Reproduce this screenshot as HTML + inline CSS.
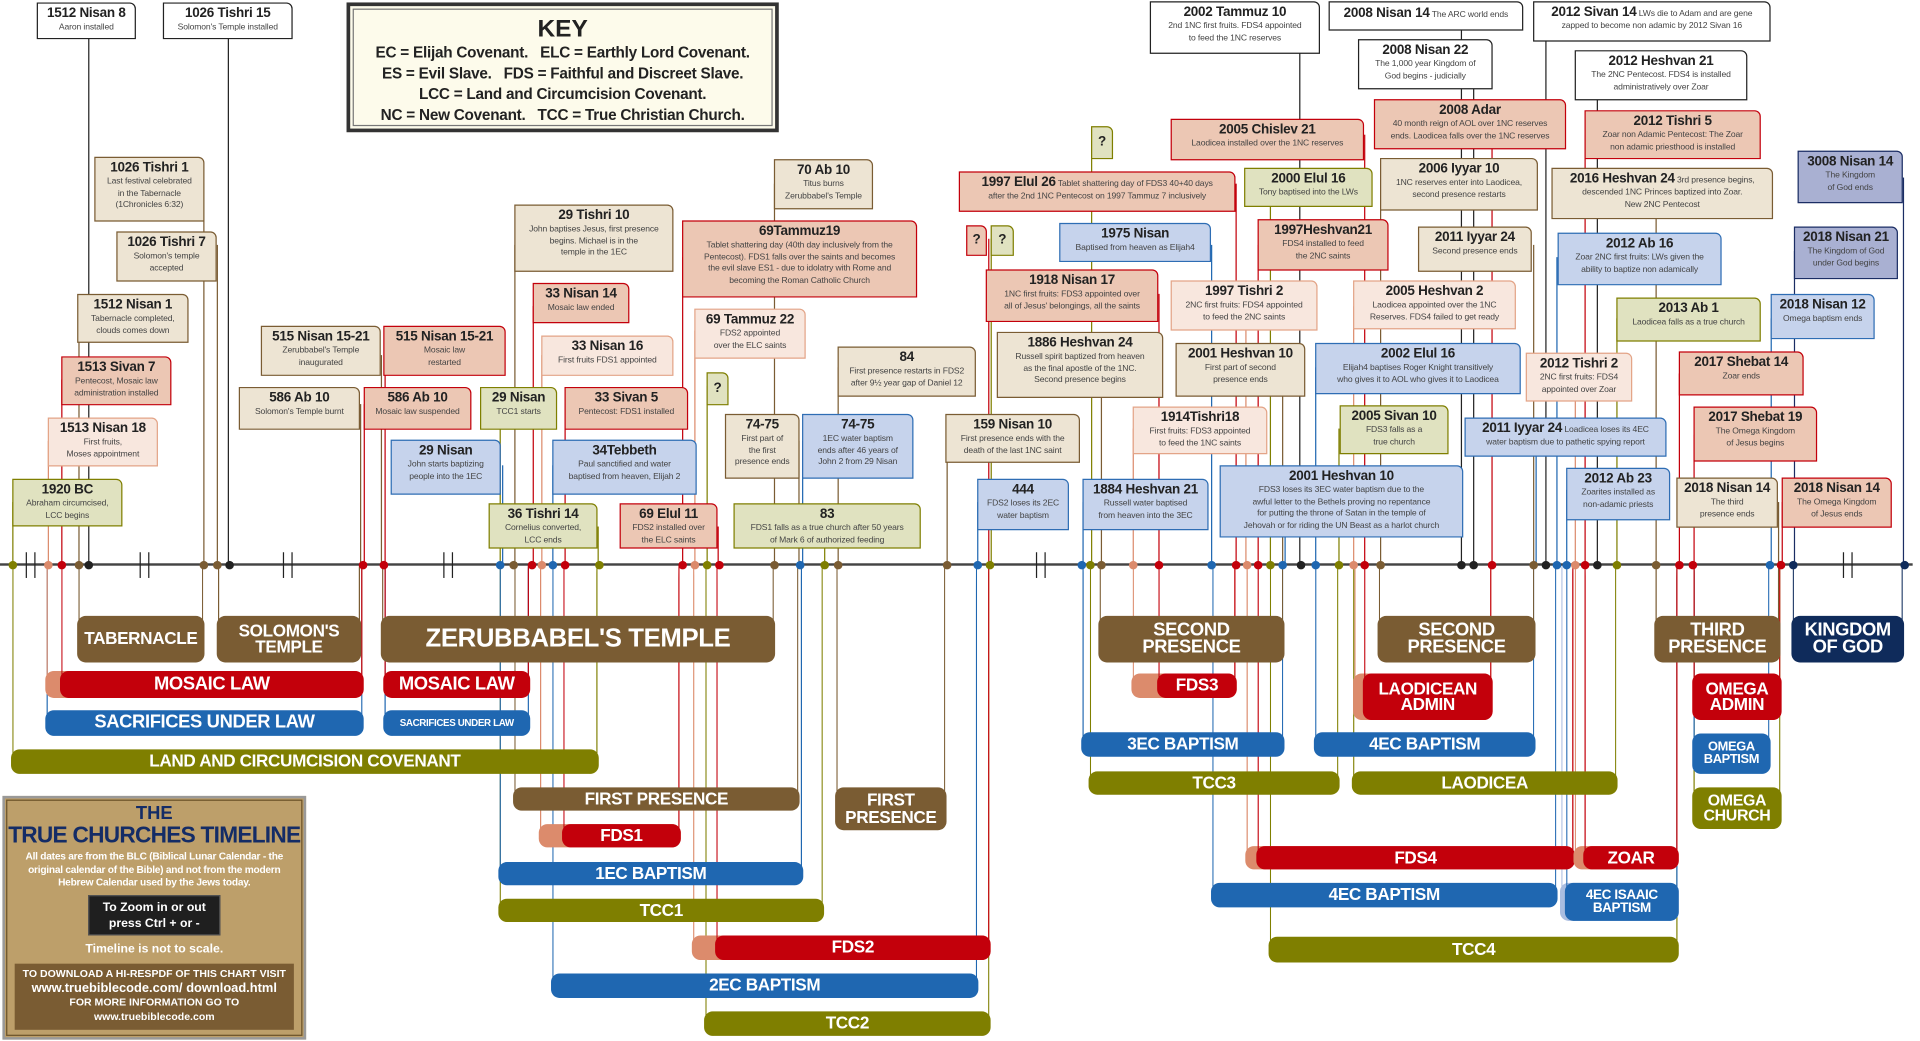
<!DOCTYPE html>
<html><head><meta charset="utf-8">
<style>
html,body{margin:0;padding:0;background:#fff;width:1920px;height:1041px;overflow:hidden}
#c{position:absolute;left:0;top:0;width:1568px;height:850px;transform:scale(1.22449);transform-origin:0 0;font-family:"Liberation Sans",sans-serif}
.br{position:absolute;top:461px;box-sizing:border-box;border-left:1.6px solid var(--c);border-right:1.6px solid var(--c);border-radius:0 0 7px 7px;z-index:1}
.br span{position:absolute;left:-1.6px;right:-1.6px;bottom:0;background:var(--c);border-radius:7px;color:#fff;font-weight:bold;display:flex;align-items:center;justify-content:center;text-align:center;line-height:0.95;white-space:nowrap;letter-spacing:-0.3px}
.v{position:absolute;width:1.4px;z-index:2}
.ax{position:absolute;left:0;top:460.3px;width:1562px;height:1.5px;background:#444;z-index:3}
.d{position:absolute;top:458px;width:7px;height:7px;border-radius:50%;margin-left:-2.8px;z-index:4}
.bk{position:absolute;top:451px;width:1.3px;height:21px;background:#222;z-index:4}
.bx{position:absolute;box-sizing:border-box;border:1.5px solid;border-radius:0 5px 0 0;text-align:center;font-size:7px;line-height:9.5px;color:#444;z-index:5;padding-top:2px;overflow:hidden;white-space:nowrap;letter-spacing:-0.1px}
.bx b{display:block;font-size:11px;line-height:13px;color:#222;letter-spacing:-0.2px}
.bx b.i{display:inline}
.t{background:#ede4d3;border-color:#7a5c33}
.p{background:#ecc7b4;border-color:#c3000b}
.l{background:#f8e7de;border-color:#e3a487}
.u{background:#c6d3ec;border-color:#2e6db4}
.o{background:#e0e2c0;border-color:#7f7f00}
.w{background:#fff;border-color:#222}
.n{background:#a9b0d2;border-color:#1b2d64}
</style></head><body>
<div id="c">

<div class="br" style="--c:#7f7f00;left:576px;width:232px;height:385px"><span style="height:20px;font-size:14px">TCC2</span></div>
<div class="br" style="--c:#1f67b1;left:451px;width:347px;height:354px"><span style="height:20px;font-size:14px">2EC BAPTISM</span></div>
<div class="br" style="--c:#dc8b6c;left:566px;width:242px;height:323px"><span style="height:20px"></span></div>
<div class="br" style="--c:#c3000b;left:585px;width:223px;height:323px"><span style="height:20px;font-size:14px">FDS2</span></div>
<div class="br" style="--c:#7f7f00;left:1037px;width:333px;height:325px"><span style="height:21px;font-size:14px">TCC4</span></div>
<div class="br" style="--c:#7f7f00;left:408px;width:264px;height:292px"><span style="height:19px;font-size:14px">TCC1</span></div>
<div class="br" style="--c:#a9bde0;left:1275px;width:95px;height:291px"><span style="height:31px"></span></div>
<div class="br" style="--c:#1f67b1;left:1279px;width:91px;height:291px"><span style="height:31px;font-size:11px">4EC ISAAIC<br>BAPTISM</span></div>
<div class="br" style="--c:#1f67b1;left:990px;width:281px;height:280px"><span style="height:20px;font-size:14px">4EC BAPTISM</span></div>
<div class="br" style="--c:#1f67b1;left:408px;width:247px;height:262px"><span style="height:19px;font-size:14px">1EC BAPTISM</span></div>
<div class="br" style="--c:#dc8b6c;left:1018px;width:267px;height:249px"><span style="height:19px"></span></div>
<div class="br" style="--c:#c3000b;left:1027px;width:258px;height:249px"><span style="height:19px;font-size:14px">FDS4</span></div>
<div class="br" style="--c:#dc8b6c;left:1286px;width:84px;height:249px"><span style="height:19px"></span></div>
<div class="br" style="--c:#c3000b;left:1294px;width:76px;height:249px"><span style="height:19px;font-size:14px">ZOAR</span></div>
<div class="br" style="--c:#dc8b6c;left:441px;width:114px;height:231px"><span style="height:19px"></span></div>
<div class="br" style="--c:#c3000b;left:460px;width:95px;height:231px"><span style="height:19px;font-size:14px">FDS1</span></div>
<div class="br" style="--c:#7a5c33;left:683px;width:89px;height:217px"><span style="height:35px;font-size:14px">FIRST<br>PRESENCE</span></div>
<div class="br" style="--c:#7f7f00;left:1383px;width:71px;height:216px"><span style="height:34px;font-size:13px">OMEGA<br>CHURCH</span></div>
<div class="br" style="--c:#7a5c33;left:420px;width:232px;height:201px"><span style="height:19px;font-size:14px">FIRST PRESENCE</span></div>
<div class="br" style="--c:#7f7f00;left:890px;width:203px;height:188px"><span style="height:19px;font-size:14px">TCC3</span></div>
<div class="br" style="--c:#7f7f00;left:1105px;width:215px;height:188px"><span style="height:19px;font-size:14px">LAODICEA</span></div>
<div class="br" style="--c:#7f7f00;left:10px;width:478px;height:171px"><span style="height:20px;font-size:14px">LAND AND CIRCUMCISION COVENANT</span></div>
<div class="br" style="--c:#1f67b1;left:1383px;width:62px;height:171px"><span style="height:33px;font-size:10.5px">OMEGA<br>BAPTISM</span></div>
<div class="br" style="--c:#1f67b1;left:884px;width:164px;height:157px"><span style="height:20px;font-size:14px">3EC BAPTISM</span></div>
<div class="br" style="--c:#1f67b1;left:1074px;width:179px;height:157px"><span style="height:20px;font-size:14px">4EC BAPTISM</span></div>
<div class="br" style="--c:#1f67b1;left:38px;width:258px;height:140px"><span style="height:21px;font-size:15px">SACRIFICES UNDER LAW</span></div>
<div class="br" style="--c:#1f67b1;left:314px;width:118px;height:140px"><span style="height:21px;font-size:8px">SACRIFICES UNDER LAW</span></div>
<div class="br" style="--c:#dc8b6c;left:1106px;width:112px;height:127px"><span style="height:38px"></span></div>
<div class="br" style="--c:#c3000b;left:1114px;width:104px;height:127px"><span style="height:38px;font-size:14px">LAODICEAN<br>ADMIN</span></div>
<div class="br" style="--c:#c3000b;left:1383px;width:71px;height:127px"><span style="height:38px;font-size:14px">OMEGA<br>ADMIN</span></div>
<div class="br" style="--c:#dc8b6c;left:925px;width:84px;height:109px"><span style="height:20px"></span></div>
<div class="br" style="--c:#c3000b;left:946px;width:63px;height:109px"><span style="height:20px;font-size:14px">FDS3</span></div>
<div class="br" style="--c:#dc8b6c;left:38px;width:258px;height:109px"><span style="height:22px"></span></div>
<div class="br" style="--c:#c3000b;left:50px;width:246px;height:109px"><span style="height:22px;font-size:15px">MOSAIC LAW</span></div>
<div class="br" style="--c:#c3000b;left:314px;width:118px;height:109px"><span style="height:22px;font-size:15px">MOSAIC LAW</span></div>
<div class="br" style="--c:#7a5c33;left:64px;width:102px;height:80px"><span style="height:38px;font-size:14px">TABERNACLE</span></div>
<div class="br" style="--c:#7a5c33;left:178px;width:116px;height:80px"><span style="height:38px;font-size:14px">SOLOMON'S<br>TEMPLE</span></div>
<div class="br" style="--c:#7a5c33;left:312px;width:320px;height:80px"><span style="height:38px;font-size:21px">ZERUBBABEL'S TEMPLE</span></div>
<div class="br" style="--c:#7a5c33;left:898px;width:150px;height:80px"><span style="height:38px;font-size:15px">SECOND<br>PRESENCE</span></div>
<div class="br" style="--c:#7a5c33;left:1126px;width:127px;height:80px"><span style="height:38px;font-size:15px">SECOND<br>PRESENCE</span></div>
<div class="br" style="--c:#7a5c33;left:1352px;width:101px;height:80px"><span style="height:38px;font-size:15px">THIRD<br>PRESENCE</span></div>
<div class="br" style="--c:#0f2b5b;left:1464px;width:90px;height:80px"><span style="height:38px;font-size:15px">KINGDOM<br>OF GOD</span></div>

<i class="v" style="left:71.5px;top:30px;height:431px;background:#222"></i>
<i class="v" style="left:186px;top:30px;height:431px;background:#222"></i>
<i class="v" style="left:166px;top:150px;height:311px;background:#7a5c33"></i>
<i class="v" style="left:176.5px;top:200px;height:261px;background:#7a5c33"></i>
<i class="v" style="left:64px;top:260px;height:201px;background:#7a5c33"></i>
<i class="v" style="left:50px;top:310px;height:151px;background:#c3000b"></i>
<i class="v" style="left:38.5px;top:360px;height:101px;background:#dc8b6c"></i>
<i class="v" style="left:10px;top:410px;height:51px;background:#7f7f00"></i>
<i class="v" style="left:311px;top:290px;height:171px;background:#7a5c33"></i>
<i class="v" style="left:294px;top:330px;height:131px;background:#7a5c33"></i>
<i class="v" style="left:297px;top:330px;height:131px;background:#c3000b"></i>
<i class="v" style="left:314px;top:290px;height:171px;background:#c3000b"></i>
<i class="v" style="left:408px;top:340px;height:121px;background:#7f7f00"></i>
<i class="v" style="left:409.5px;top:380px;height:81px;background:#1f67b1"></i>
<i class="v" style="left:420px;top:200px;height:261px;background:#7a5c33"></i>
<i class="v" style="left:435px;top:250px;height:211px;background:#c3000b"></i>
<i class="v" style="left:442px;top:290px;height:171px;background:#dc8b6c"></i>
<i class="v" style="left:451px;top:380px;height:81px;background:#1f67b1"></i>
<i class="v" style="left:461px;top:330px;height:131px;background:#c3000b"></i>
<i class="v" style="left:488px;top:430px;height:31px;background:#7f7f00"></i>
<i class="v" style="left:557px;top:210px;height:251px;background:#c3000b"></i>
<i class="v" style="left:567px;top:270px;height:191px;background:#dc8b6c"></i>
<i class="v" style="left:577px;top:315px;height:146px;background:#7f7f00"></i>
<i class="v" style="left:586px;top:430px;height:31px;background:#c3000b"></i>
<i class="v" style="left:632px;top:150px;height:311px;background:#7a5c33"></i>
<i class="v" style="left:652px;top:360px;height:101px;background:#7a5c33"></i>
<i class="v" style="left:655px;top:360px;height:101px;background:#1f67b1"></i>
<i class="v" style="left:673px;top:430px;height:31px;background:#7f7f00"></i>
<i class="v" style="left:684px;top:300px;height:161px;background:#7a5c33"></i>
<i class="v" style="left:773px;top:355px;height:106px;background:#7a5c33"></i>
<i class="v" style="left:798px;top:410px;height:51px;background:#1f67b1"></i>
<i class="v" style="left:807px;top:195px;height:266px;background:#c3000b"></i>
<i class="v" style="left:809px;top:195px;height:266px;background:#7f7f00"></i>
<i class="v" style="left:891px;top:115px;height:346px;background:#7f7f00"></i>
<i class="v" style="left:946px;top:240px;height:221px;background:#c3000b"></i>
<i class="v" style="left:989px;top:200px;height:261px;background:#1f67b1"></i>
<i class="v" style="left:899px;top:300px;height:161px;background:#7a5c33"></i>
<i class="v" style="left:884px;top:410px;height:51px;background:#1f67b1"></i>
<i class="v" style="left:925px;top:350px;height:111px;background:#dc8b6c"></i>
<i class="v" style="left:1009px;top:150px;height:311px;background:#c3000b"></i>
<i class="v" style="left:1017px;top:250px;height:211px;background:#dc8b6c"></i>
<i class="v" style="left:1027px;top:200px;height:261px;background:#c3000b"></i>
<i class="v" style="left:1037px;top:150px;height:311px;background:#7f7f00"></i>
<i class="v" style="left:1047px;top:300px;height:161px;background:#7a5c33"></i>
<i class="v" style="left:1049px;top:410px;height:51px;background:#1f67b1"></i>
<i class="v" style="left:1061px;top:20px;height:441px;background:#222"></i>
<i class="v" style="left:1074px;top:300px;height:161px;background:#1f67b1"></i>
<i class="v" style="left:1093px;top:350px;height:111px;background:#7f7f00"></i>
<i class="v" style="left:1105px;top:250px;height:211px;background:#dc8b6c"></i>
<i class="v" style="left:1114px;top:110px;height:351px;background:#c3000b"></i>
<i class="v" style="left:1127px;top:150px;height:311px;background:#7a5c33"></i>
<i class="v" style="left:1193px;top:15px;height:446px;background:#222"></i>
<i class="v" style="left:1203px;top:50px;height:411px;background:#222"></i>
<i class="v" style="left:1218px;top:100px;height:361px;background:#c3000b"></i>
<i class="v" style="left:1252px;top:200px;height:261px;background:#7a5c33"></i>
<i class="v" style="left:1262px;top:20px;height:441px;background:#222"></i>
<i class="v" style="left:1271px;top:210px;height:251px;background:#1f67b1"></i>
<i class="v" style="left:1254px;top:355px;height:106px;background:#1f67b1"></i>
<i class="v" style="left:1279px;top:400px;height:61px;background:#1f67b1"></i>
<i class="v" style="left:1286px;top:310px;height:151px;background:#dc8b6c"></i>
<i class="v" style="left:1294px;top:110px;height:351px;background:#c3000b"></i>
<i class="v" style="left:1304px;top:60px;height:401px;background:#222"></i>
<i class="v" style="left:1320px;top:260px;height:201px;background:#7f7f00"></i>
<i class="v" style="left:1352px;top:160px;height:301px;background:#7a5c33"></i>
<i class="v" style="left:1371px;top:305px;height:156px;background:#c3000b"></i>
<i class="v" style="left:1383px;top:355px;height:106px;background:#c3000b"></i>
<i class="v" style="left:1446px;top:260px;height:201px;background:#1f67b1"></i>
<i class="v" style="left:1452px;top:410px;height:51px;background:#7a5c33"></i>
<i class="v" style="left:1455px;top:410px;height:51px;background:#c3000b"></i>
<i class="v" style="left:1465px;top:205px;height:256px;background:#1b2d64"></i>
<i class="v" style="left:1554px;top:145px;height:316px;background:#1b2d64"></i>

<div class="ax"></div>
<i class="bk" style="left:21px"></i><i class="bk" style="left:28px"></i>
<i class="bk" style="left:114px"></i><i class="bk" style="left:121px"></i>
<i class="bk" style="left:231px"></i><i class="bk" style="left:238px"></i>
<i class="bk" style="left:362px"></i><i class="bk" style="left:369px"></i>
<i class="bk" style="left:846px"></i><i class="bk" style="left:853px"></i>
<i class="bk" style="left:1505px"></i><i class="bk" style="left:1512px"></i>

<i class="d" style="left:10px;background:#7f7f00"></i>
<i class="d" style="left:38.5px;background:#dc8b6c"></i>
<i class="d" style="left:50px;background:#c3000b"></i>
<i class="d" style="left:64px;background:#7a5c33"></i>
<i class="d" style="left:72px;background:#222"></i>
<i class="d" style="left:166px;background:#7a5c33"></i>
<i class="d" style="left:177px;background:#7a5c33"></i>
<i class="d" style="left:187px;background:#222"></i>
<i class="d" style="left:296px;background:#c3000b"></i>
<i class="d" style="left:313px;background:#c3000b"></i>
<i class="d" style="left:408px;background:#1f67b1"></i>
<i class="d" style="left:419px;background:#7a5c33"></i>
<i class="d" style="left:434px;background:#c3000b"></i>
<i class="d" style="left:442px;background:#dc8b6c"></i>
<i class="d" style="left:451px;background:#1f67b1"></i>
<i class="d" style="left:461px;background:#c3000b"></i>
<i class="d" style="left:489px;background:#7f7f00"></i>
<i class="d" style="left:557px;background:#c3000b"></i>
<i class="d" style="left:567px;background:#dc8b6c"></i>
<i class="d" style="left:577px;background:#7f7f00"></i>
<i class="d" style="left:587px;background:#c3000b"></i>
<i class="d" style="left:632px;background:#7a5c33"></i>
<i class="d" style="left:653px;background:#1f67b1"></i>
<i class="d" style="left:673px;background:#7f7f00"></i>
<i class="d" style="left:684px;background:#7a5c33"></i>
<i class="d" style="left:773px;background:#7a5c33"></i>
<i class="d" style="left:798px;background:#1f67b1"></i>
<i class="d" style="left:808px;background:#7f7f00"></i>
<i class="d" style="left:883px;background:#1f67b1"></i>
<i class="d" style="left:890px;background:#7f7f00"></i>
<i class="d" style="left:899px;background:#7a5c33"></i>
<i class="d" style="left:925px;background:#dc8b6c"></i>
<i class="d" style="left:946px;background:#c3000b"></i>
<i class="d" style="left:989px;background:#1f67b1"></i>
<i class="d" style="left:1009px;background:#c3000b"></i>
<i class="d" style="left:1018px;background:#dc8b6c"></i>
<i class="d" style="left:1027px;background:#c3000b"></i>
<i class="d" style="left:1037px;background:#7f7f00"></i>
<i class="d" style="left:1047px;background:#1f67b1"></i>
<i class="d" style="left:1062px;background:#222"></i>
<i class="d" style="left:1074px;background:#1f67b1"></i>
<i class="d" style="left:1093px;background:#7f7f00"></i>
<i class="d" style="left:1105px;background:#dc8b6c"></i>
<i class="d" style="left:1114px;background:#c3000b"></i>
<i class="d" style="left:1127px;background:#7a5c33"></i>
<i class="d" style="left:1193px;background:#222"></i>
<i class="d" style="left:1203px;background:#222"></i>
<i class="d" style="left:1218px;background:#c3000b"></i>
<i class="d" style="left:1252px;background:#7a5c33"></i>
<i class="d" style="left:1262px;background:#222"></i>
<i class="d" style="left:1271px;background:#1f67b1"></i>
<i class="d" style="left:1279px;background:#1f67b1"></i>
<i class="d" style="left:1286px;background:#dc8b6c"></i>
<i class="d" style="left:1294px;background:#c3000b"></i>
<i class="d" style="left:1304px;background:#222"></i>
<i class="d" style="left:1320px;background:#7f7f00"></i>
<i class="d" style="left:1352px;background:#7a5c33"></i>
<i class="d" style="left:1371px;background:#c3000b"></i>
<i class="d" style="left:1382px;background:#c3000b"></i>
<i class="d" style="left:1445px;background:#1f67b1"></i>
<i class="d" style="left:1454px;background:#c3000b"></i>
<i class="d" style="left:1464px;background:#0f2b5b"></i>
<i class="d" style="left:1555px;background:#0f2b5b"></i>

<div class="bx w" style="left:30px;top:2px;width:81px;height:30px"><b>1512 Nisan 8</b>Aaron installed</div>
<div class="bx w" style="left:133px;top:2px;width:106px;height:30px"><b>1026 Tishri 15</b>Solomon's Temple installed</div>
<div class="bx t" style="left:77px;top:128px;width:90px;height:53px"><b>1026 Tishri 1</b>Last festival celebrated<br>in the Tabernacle<br>(1Chronicles 6:32)</div>
<div class="bx t" style="left:95px;top:189px;width:82px;height:41px"><b>1026 Tishri 7</b>Solomon's temple<br>accepted</div>
<div class="bx t" style="left:63px;top:240px;width:91px;height:40px"><b>1512 Nisan 1</b>Tabernacle completed,<br>clouds comes down</div>
<div class="bx p" style="left:50px;top:291px;width:90px;height:40px"><b>1513 Sivan 7</b>Pentecost, Mosaic law<br>administration installed</div>
<div class="bx l" style="left:39px;top:341px;width:90px;height:40px"><b>1513 Nisan 18</b>First fruits,<br>Moses appointment</div>
<div class="bx o" style="left:10px;top:391px;width:90px;height:39px"><b>1920 BC</b>Abraham circumcised,<br>LCC begins</div>
<div class="bx t" style="left:213px;top:266px;width:98px;height:41px"><b>515 Nisan 15-21</b>Zerubbabel's Temple<br>inaugurated</div>
<div class="bx p" style="left:313px;top:266px;width:100px;height:41px"><b>515 Nisan 15-21</b>Mosaic law<br>restarted</div>
<div class="bx t" style="left:195px;top:316px;width:99px;height:35px"><b>586 Ab 10</b>Solomon's Temple burnt</div>
<div class="bx p" style="left:297px;top:316px;width:88px;height:35px"><b>586 Ab 10</b>Mosaic law suspended</div>
<div class="bx o" style="left:392px;top:316px;width:63px;height:35px"><b>29 Nisan</b>TCC1 starts</div>
<div class="bx p" style="left:461px;top:316px;width:101px;height:35px"><b>33 Sivan 5</b>Pentecost: FDS1 installed</div>
<div class="bx p" style="left:435px;top:231px;width:79px;height:33px"><b>33 Nisan 14</b>Mosaic law ended</div>
<div class="bx t" style="left:420px;top:167px;width:130px;height:55px"><b>29 Tishri 10</b>John baptises Jesus, first presence<br>begins. Michael is in the<br>temple in the 1EC</div>
<div class="bx l" style="left:442px;top:274px;width:108px;height:33px"><b>33 Nisan 16</b>First fruits FDS1 appointed</div>
<div class="bx u" style="left:319px;top:359px;width:90px;height:45px"><b>29 Nisan</b>John starts baptizing<br>people into the 1EC</div>
<div class="bx u" style="left:451px;top:359px;width:118px;height:45px"><b>34Tebbeth</b>Paul sanctified and water<br>baptised from heaven, Elijah 2</div>
<div class="bx o" style="left:399px;top:411px;width:89px;height:37px"><b>36 Tishri 14</b>Cornelius converted,<br>LCC ends</div>
<div class="bx p" style="left:506px;top:411px;width:80px;height:37px"><b>69 Elul 11</b>FDS2 installed over<br>the ELC saints</div>
<div class="bx o" style="left:599px;top:411px;width:153px;height:37px"><b>83</b>FDS1 falls as a true church after 50 years<br>of Mark 6 of authorized feeding</div>
<div class="bx t" style="left:632px;top:130px;width:81px;height:41px"><b>70 Ab 10</b>Titus burns<br>Zerubbabel's Temple</div>
<div class="bx p" style="left:557px;top:180px;width:192px;height:63px"><b>69Tammuz19</b>Tablet shattering day (40th day inclusively from the<br>Pentecost). FDS1 falls over the saints and becomes<br>the evil slave ES1 - due to idolatry with Rome and<br>becoming the Roman Catholic Church</div>
<div class="bx l" style="left:567px;top:252px;width:91px;height:41px"><b>69 Tammuz 22</b>FDS2 appointed<br>over the ELC saints</div>
<div class="bx o" style="left:577px;top:304px;width:18px;height:27px;padding-top:6px"><b>?</b></div>
<div class="bx t" style="left:592px;top:338px;width:61px;height:53px"><b>74-75</b>First part of<br>the first<br>presence ends</div>
<div class="bx u" style="left:655px;top:338px;width:91px;height:53px"><b>74-75</b>1EC water baptism<br>ends after 46 years of<br>John 2 from 29 Nisan</div>
<div class="bx t" style="left:684px;top:283px;width:113px;height:41px"><b>84</b>First presence restarts in FDS2<br>after 9½ year gap of Daniel 12</div>
<div class="bx t" style="left:772px;top:338px;width:110px;height:40px"><b>159 Nisan 10</b>First presence ends with the<br>death of the last 1NC saint</div>
<div class="bx u" style="left:798px;top:391px;width:75px;height:42px"><b>444</b>FDS2 loses its 2EC<br>water baptism</div>

<div style="position:absolute;left:283px;top:2px;width:353px;height:106px;box-sizing:border-box;border:3px solid #333;background:#fdfbeb;z-index:5">
<div style="position:absolute;left:2px;top:2px;right:2px;bottom:2px;border:1px solid #777;text-align:center;font-weight:bold;color:#222">
<div style="font-size:20px;line-height:22px;margin-top:5px">KEY</div>
<div style="font-size:12.5px;line-height:17px;letter-spacing:-0.2px">EC = Elijah Covenant.&nbsp;&nbsp; ELC = Earthly Lord Covenant.<br>ES = Evil Slave.&nbsp;&nbsp; FDS = Faithful and Discreet Slave.<br>LCC = Land and Circumcision Covenant.<br>NC = New Covenant.&nbsp;&nbsp; TCC = True Christian Church.</div>
</div></div>

<div style="position:absolute;left:2px;top:650px;width:248px;height:199px;box-sizing:border-box;border:2px solid #999;background:#bd9f6a;z-index:5;text-align:center;font-weight:bold">
<div style="position:absolute;left:1px;top:1px;right:1px;bottom:1px;border:1px solid #6b5229"></div>
<div style="color:#142c66;font-size:15px;line-height:14px;margin-top:6px">THE</div>
<div style="color:#142c66;font-size:18.5px;line-height:20px;letter-spacing:-0.6px">TRUE CHURCHES TIMELINE</div>
<div style="color:#fff;font-size:8.3px;line-height:10.5px;margin-top:2px;letter-spacing:-0.2px">All dates are from the BLC (Biblical Lunar Calendar - the<br>original calendar of the Bible) and not from the modern<br>Hebrew Calendar used by the Jews today.</div>
<div style="position:absolute;left:68px;top:79px;width:108px;height:33px;background:#1f1f1f;color:#fff;font-size:10px;line-height:13px;padding-top:3px;box-sizing:border-box;white-space:nowrap;border:1px solid #555">To Zoom in or out<br>press Ctrl + or -</div>
<div style="position:absolute;left:0;right:0;top:118px;color:#fff;font-size:10px">Timeline is not to scale.</div>
<div style="position:absolute;left:8px;right:8px;top:135px;bottom:6px;background:#7a5c33;color:#fff;font-size:8.6px;line-height:11.5px;padding-top:3px">TO DOWNLOAD A HI-RESPDF OF THIS CHART VISIT<br><span style="font-size:10.5px">www.truebiblecode.com/ download.html</span><br>FOR MORE INFORMATION GO TO<br>www.truebiblecode.com</div>
</div>

<div class="bx o" style="left:891px;top:103px;width:18px;height:27px;padding-top:6px"><b>?</b></div>
<div class="bx p" style="left:789px;top:184px;width:17px;height:25px;padding-top:5px"><b>?</b></div>
<div class="bx o" style="left:809px;top:184px;width:19px;height:25px;padding-top:5px"><b>?</b></div>
<div class="bx p" style="left:783px;top:140px;width:226px;height:33px"><b class="i">1997 Elul 26</b> Tablet shattering day of FDS3 40+40 days<br>after the 2nd 1NC Pentecost on 1997 Tammuz 7 inclusively</div>
<div class="bx u" style="left:865px;top:182px;width:124px;height:32px"><b>1975 Nisan</b>Baptised from heaven as Elijah4</div>
<div class="bx p" style="left:805px;top:220px;width:141px;height:43px"><b>1918 Nisan 17</b>1NC first fruits: FDS3 appointed over<br>all of Jesus' belongings, all the saints</div>
<div class="bx t" style="left:814px;top:271px;width:136px;height:54px"><b>1886 Heshvan 24</b>Russell spirit baptized from heaven<br>as the final apostle of the 1NC.<br>Second presence begins</div>
<div class="bx u" style="left:884px;top:391px;width:103px;height:42px"><b>1884 Heshvan 21</b>Russell water baptised<br>from heaven into the 3EC</div>
<div class="bx l" style="left:925px;top:332px;width:110px;height:39px"><b>1914Tishri18</b>First fruits: FDS3 appointed<br>to feed the 1NC saints</div>
<div class="bx l" style="left:956px;top:229px;width:120px;height:41px"><b>1997 Tishri 2</b>2NC first fruits: FDS4 appointed<br>to feed the 2NC saints</div>
<div class="bx t" style="left:960px;top:280px;width:106px;height:44px"><b>2001 Heshvan 10</b>First part of second<br>presence ends</div>
<div class="bx u" style="left:996px;top:380px;width:199px;height:59px"><b>2001 Heshvan 10</b>FDS3 loses its 3EC water baptism due to the<br>awful letter to the Bethels proving no repentance<br>for putting the throne of Satan in the temple of<br>Jehovah or for riding the UN Beast as a harlot church</div>
<div class="bx o" style="left:1094px;top:331px;width:89px;height:40px"><b>2005 Sivan 10</b>FDS3 falls as a<br>true church</div>
<div class="bx u" style="left:1074px;top:280px;width:168px;height:42px"><b>2002 Elul 16</b>Elijah4 baptises Roger Knight transitively<br>who gives it to AOL who gives it to Laodicea</div>
<div class="bx l" style="left:1105px;top:229px;width:133px;height:40px"><b>2005 Heshvan 2</b>Laodicea appointed over the 1NC<br>Reserves. FDS4 failed to get ready</div>
<div class="bx p" style="left:1027px;top:179px;width:107px;height:42px"><b>1997Heshvan21</b>FDS4 installed to feed<br>the 2NC saints</div>
<div class="bx o" style="left:1016px;top:137px;width:105px;height:32px"><b>2000 Elul 16</b>Tony baptised into the LWs</div>
<div class="bx p" style="left:956px;top:97px;width:158px;height:34px"><b>2005 Chislev 21</b>Laodicea installed over the 1NC reserves</div>
<div class="bx w" style="left:939px;top:1px;width:139px;height:43px"><b>2002 Tammuz 10</b>2nd 1NC first fruits. FDS4 appointed<br>to feed the 1NC reserves</div>
<div class="bx w" style="left:1085px;top:1px;width:159px;height:24px;padding-top:3px"><b class="i">2008 Nisan 14</b> The ARC world ends</div>
<div class="bx w" style="left:1109px;top:32px;width:110px;height:41px"><b>2008 Nisan 22</b>The 1,000 year Kingdom of<br>God begins - judicially</div>
<div class="bx p" style="left:1122px;top:81px;width:157px;height:41px"><b>2008 Adar</b>40 month reign of AOL over 1NC reserves<br>ends. Laodicea falls over the 1NC reserves</div>
<div class="bx t" style="left:1127px;top:129px;width:129px;height:43px"><b>2006 Iyyar 10</b>1NC reserves enter into Laodicea,<br>second presence restarts</div>
<div class="bx t" style="left:1158px;top:185px;width:93px;height:37px"><b>2011 Iyyar 24</b>Second presence ends</div>
<div class="bx w" style="left:1252px;top:1px;width:194px;height:33px"><b class="i">2012 Sivan 14</b> LWs die to Adam and are gene<br>zapped to become non adamic by 2012 Sivan 16</div>
<div class="bx w" style="left:1286px;top:41px;width:141px;height:41px"><b>2012 Heshvan 21</b>The 2NC Pentecost. FDS4 is installed<br>administratively over Zoar</div>
<div class="bx p" style="left:1294px;top:90px;width:144px;height:40px"><b>2012 Tishri 5</b>Zoar non Adamic Pentecost: The Zoar<br>non adamic priesthood is installed</div>
<div class="bx t" style="left:1267px;top:137px;width:181px;height:42px"><b class="i">2016 Heshvan 24</b> 3rd presence begins,<br>descended 1NC Princes baptized into Zoar.<br>New 2NC Pentecost</div>
<div class="bx u" style="left:1272px;top:190px;width:134px;height:43px"><b>2012 Ab 16</b>Zoar 2NC first fruits: LWs given the<br>ability to baptize non adamically</div>
<div class="bx o" style="left:1320px;top:243px;width:118px;height:36px"><b>2013 Ab 1</b>Laodicea falls as a true church</div>
<div class="bx l" style="left:1246px;top:288px;width:87px;height:40px"><b>2012 Tishri 2</b>2NC first fruits: FDS4<br>appointed over Zoar</div>
<div class="bx u" style="left:1196px;top:341px;width:165px;height:32px"><b class="i">2011 Iyyar 24</b> Loadicea loses its 4EC<br>water baptism due to pathetic spying report</div>
<div class="bx u" style="left:1279px;top:382px;width:85px;height:43px"><b>2012 Ab 23</b>Zoarites installed as<br>non-adamic priests</div>
<div class="bx t" style="left:1369px;top:390px;width:83px;height:41px"><b>2018 Nisan 14</b>The third<br>presence ends</div>
<div class="bx p" style="left:1455px;top:390px;width:90px;height:41px"><b>2018 Nisan 14</b>The Omega Kingdom<br>of Jesus ends</div>
<div class="bx p" style="left:1371px;top:287px;width:102px;height:36px"><b>2017 Shebat 14</b>Zoar ends</div>
<div class="bx p" style="left:1383px;top:332px;width:101px;height:45px"><b>2017 Shebat 19</b>The Omega Kingdom<br>of Jesus begins</div>
<div class="bx u" style="left:1446px;top:240px;width:85px;height:37px"><b>2018 Nisan 12</b>Omega baptism ends</div>
<div class="bx n" style="left:1465px;top:185px;width:85px;height:43px"><b>2018 Nisan 21</b>The Kingdom of God<br>under God begins</div>
<div class="bx n" style="left:1468px;top:123px;width:86px;height:43px"><b>3008 Nisan 14</b>The Kingdom<br>of God ends</div>

</div>
</body></html>
